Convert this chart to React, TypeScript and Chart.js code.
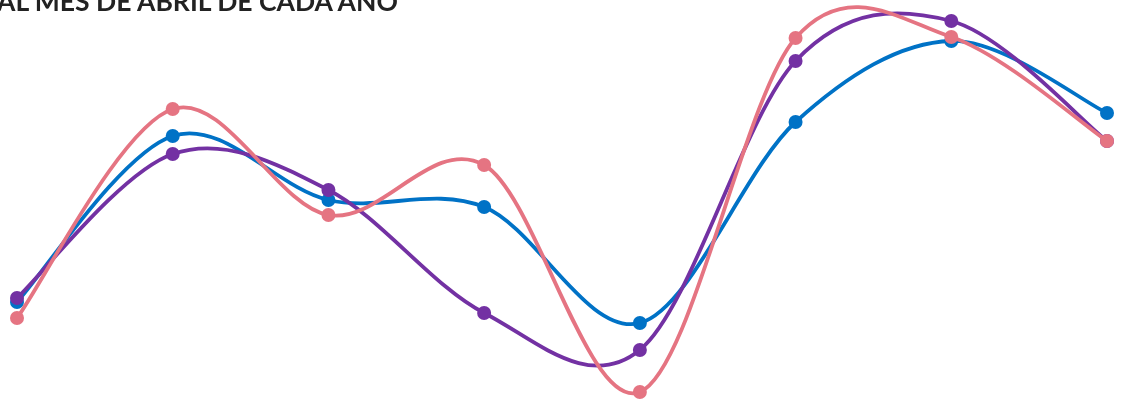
import React, { useEffect, useRef } from "react";
import { Chart, registerables } from "chart.js";

Chart.register(...registerables);

const categories = ["1", "2", "3", "4", "5", "6", "7", "8"];
const blueSeries = [98, 264, 200, 193, 77, 278, 359, 287];
const purpleSeries = [102, 246, 210, 87, 50, 339, 379, 259];
const pinkSeries = [82, 291, 185, 235, 8, 362, 363, 259];
const titleText = "AL MES DE ABRIL DE CADA AÑO";

const LINE_WIDTH = 3.8;

// Draws each dataset's line as a uniform Catmull-Rom (cardinal) spline through
// the point positions computed by Chart.js scales.
const cardinalLinePlugin = {
  id: "cardinalLine",
  beforeDatasetDraw(chart: any, args: any) {
    const meta = args.meta;
    const ds = chart.data.datasets[args.index];
    const pts = meta.data.map((p: any) => ({ x: p.x, y: p.y }));
    if (pts.length < 2) return;
    const ctx = chart.ctx as CanvasRenderingContext2D;
    ctx.save();
    ctx.beginPath();
    ctx.moveTo(pts[0].x, pts[0].y);
    for (let i = 0; i < pts.length - 1; i++) {
      const p0 = pts[i - 1] || pts[i];
      const p1 = pts[i];
      const p2 = pts[i + 1];
      const p3 = pts[i + 2] || pts[i + 1];
      ctx.bezierCurveTo(
        p1.x + (p2.x - p0.x) / 6,
        p1.y + (p2.y - p0.y) / 6,
        p2.x - (p3.x - p1.x) / 6,
        p2.y - (p3.y - p1.y) / 6,
        p2.x,
        p2.y
      );
    }
    ctx.lineWidth = LINE_WIDTH;
    ctx.strokeStyle = ds.borderColor;
    ctx.lineJoin = "round";
    ctx.lineCap = "round";
    ctx.stroke();
    ctx.restore();
  },
};

export default function App() {
  const ref = useRef<HTMLCanvasElement>(null);
  useEffect(() => {
    if (!ref.current) return;
    const mk = (data: number[], color: string) => ({
      data,
      borderColor: color,
      backgroundColor: color,
      pointBackgroundColor: color,
      pointBorderColor: color,
      showLine: false,
      pointRadius: 7,
      pointBorderWidth: 0,
      fill: false,
      clip: false as any,
    });
    const chart = new Chart(ref.current, {
      type: "line",
      data: {
        labels: categories,
        datasets: [
          mk(pinkSeries, "#e57482"),
          mk(purpleSeries, "#7331a3"),
          mk(blueSeries, "#0072c6"),
        ],
      },
      options: {
        animation: false,
        responsive: false,
        maintainAspectRatio: false,
        layout: { autoPadding: false, padding: { left: 17, right: 16, top: 0, bottom: 1 } },
        plugins: { legend: { display: false }, tooltip: { enabled: false } },
        scales: {
          x: { display: false },
          y: { display: false, min: 0, max: 400 },
        },
      },
      plugins: [cardinalLinePlugin],
    });
    return () => chart.destroy();
  }, []);
  return (
    <div style={{ position: "fixed", left: 0, top: 0, width: 1123, height: 401, background: "#fff", overflow: "hidden" }}>
      <canvas ref={ref} width={1123} height={401} style={{ position: "absolute", left: 0, top: 0 }} />
      <div
        style={{
          position: "absolute",
          left: -3,
          top: -15,
          fontFamily: "Lato, sans-serif",
          fontWeight: 700,
          fontSize: 26.5,
          color: "#222",
          whiteSpace: "nowrap",
        }}
      >
        {titleText}
      </div>
    </div>
  );
}
